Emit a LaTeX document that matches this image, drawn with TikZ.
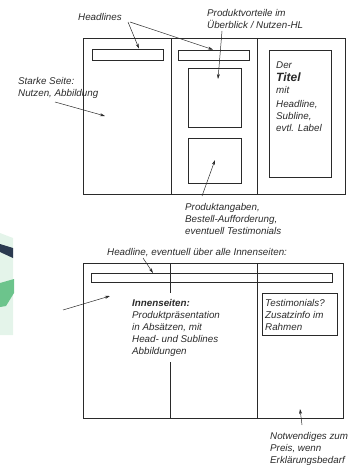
\documentclass[tikz,border=0pt]{standalone}
\usepackage{fontspec}
\setmainfont{Liberation Sans}
\usetikzlibrary{arrows.meta}
\definecolor{ink}{HTML}{2A2A2A}
\definecolor{mint}{HTML}{E4F4EA}
\definecolor{navy}{HTML}{2B3A50}
\definecolor{leaf}{HTML}{6CC48C}
\tikzset{
  frame/.style={draw=ink, line width=0.9pt},
  inner/.style={draw=ink, line width=0.8pt},
  lbl/.style={inner sep=0pt, font=\fontsize{9.8}{12}\selectfont\itshape, text=ink, align=left},
  ptr/.style={draw=ink, line width=0.5pt, -{Stealth[length=5pt,width=3pt]}},
}
\newcommand{\fl}{\rule{0pt}{8pt}}
\begin{document}
\begin{tikzpicture}[x=1pt,y=-1pt]
\useasboundingbox (0,0) rectangle (360,465);
% partial logo at left edge
\fill[mint] (0,233) -- (13,238) -- (13,335) -- (0,335) -- cycle;
\fill[navy] (0,244) -- (13,248) -- (13,258) -- (0,252) -- cycle;
\fill[leaf] (0,283) -- (14,279) -- (14,293) -- (6,306) -- (0,307) -- cycle;

% ---------- top spread ----------
\draw[frame] (83,38) rectangle (345,194);
\coordinate (t1a) at (171,38); \coordinate (t1b) at (171,194);
\coordinate (t2a) at (257,38); \coordinate (t2b) at (257,194);
\draw[frame] (t1a) -- (t1b);
\draw[frame] (t2a) -- (t2b);
\node[inner, minimum width=71pt, minimum height=11pt, inner sep=0pt] (barA) at (127.5,54.5) {};
\node[inner, minimum width=71pt, minimum height=10pt, inner sep=0pt] (barB) at (213.5,55) {};
\node[inner, minimum width=53pt, minimum height=59pt, inner sep=0pt] (imgA) at (214.5,97.5) {};
\node[inner, minimum width=53pt, minimum height=45pt, inner sep=0pt] (imgB) at (214.5,160.5) {};
\node[inner, minimum width=62pt, minimum height=127pt, inner sep=0pt] (titlebox) at (300,113.5) {};

\node[lbl, anchor=north west] (ttext) at (276,60.6)
  {\fl Der\\[1pt]{\fontsize{12}{12}\selectfont\bfseries Titel}\\mit\\[2pt]Headline,\\Subline,\\evtl. Label};

\node[lbl, anchor=west] (hl) at (78,17) {Headlines};
\node[lbl, anchor=north west] (pv) at (207,8.6) {\fl Produktvorteile im\\Überblick / Nutzen-HL};
\node[lbl, anchor=north west] (ss) at (18,76.6) {\fl Starke Seite:\\Nutzen, Abbildung};
\node[lbl, anchor=north west] (pa) at (185,202.6) {\fl Produktangaben,\\Bestell-Aufforderung,\\eventuell Testimonials};

\coordinate (hlA) at (128,22);
\coordinate (hlB) at (130,22);
\coordinate (pvS) at (222,31);
\coordinate (ssS) at (55,102);
\coordinate (ssT) at (105,116);
\coordinate (paS) at (202,196);
\draw[ptr] (hlA) -- (barA.north -| 139,0);
\draw[ptr] (hlB) -- (barB.north -| 213,0);
\draw[ptr] (pvS) -- (218,79);
\draw[ptr] (ssS) -- (ssT);
\draw[ptr] (paS) -- (215,160);

% ---------- inner spread ----------
\draw[frame] (83,263) rectangle (343,418);
\draw[frame] (170,263) -- (170,293);
\draw[frame] (170,362) -- (170,418);
\draw[frame] (257,263) -- (257,418);
\node[inner, minimum width=241pt, minimum height=9pt, inner sep=0pt] (barC) at (211.5,277.5) {};
\node[inner, minimum width=75pt, minimum height=42pt, inner sep=0pt] (testi) at (299.5,314) {};

\node[lbl, anchor=west] (hl2) at (107,253) {Headline, eventuell über alle Innenseiten:};
\node[lbl, anchor=north west] (inn) at (132,298.6)
  {\fl\bfseries Innenseiten:\\Produktpräsentation\\in Absätzen, mit\\Head- und Sublines\\Abbildungen};
\node[lbl, anchor=north west] (tt) at (265,298.6) {\fl Testimonials?\\Zusatzinfo im\\Rahmen};
\node[lbl, anchor=north west] (nw) at (270,431.4) {\fl Notwendiges zum\\Preis, wenn\\Erklärungsbedarf};

\coordinate (hl2S) at (143,258);
\coordinate (leftS) at (63,310);
\coordinate (leftT) at (110,296);
\coordinate (nwS) at (302,425);
\coordinate (nwT) at (300,409);
\draw[ptr] (hl2S) -- (153,273);
\draw[ptr] (leftS) -- (leftT);
\draw[ptr] (nwS) -- (nwT);
\end{tikzpicture}
\end{document}
